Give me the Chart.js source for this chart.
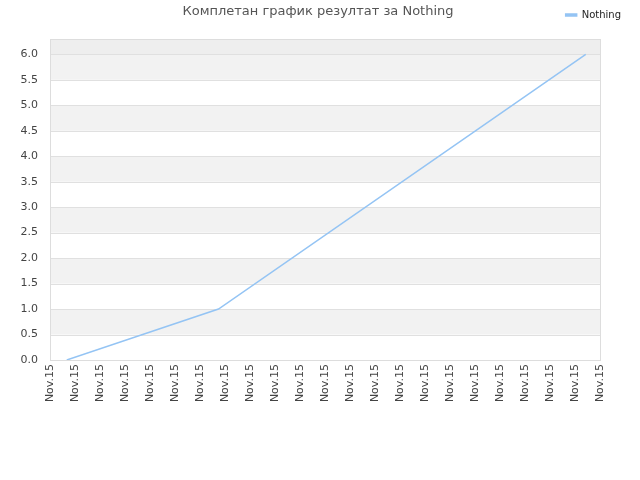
<!DOCTYPE html>
<html lang="sr">
<head>
    <meta charset="UTF-8">
    <title>Nothing</title>
    <script src="https://cdn.jsdelivr.net/npm/chart.js"></script>
    <style>
        html, body { margin: 0; padding: 0; background: #fff; }
        #wrap { width: 640px; height: 480px; }
    </style>
</head>
<body>
<div id="wrap"><canvas id="chart" width="640" height="480"></canvas></div>

<script>
    // data
    var titleText = 'Комплетан график резултат за Nothing'
    var seriesName = 'Nothing'
    var xTicks = ['Nov.15', 'Nov.15', 'Nov.15', 'Nov.15', 'Nov.15', 'Nov.15', 'Nov.15', 'Nov.15',
        'Nov.15', 'Nov.15', 'Nov.15', 'Nov.15', 'Nov.15', 'Nov.15', 'Nov.15', 'Nov.15',
        'Nov.15', 'Nov.15', 'Nov.15', 'Nov.15', 'Nov.15', 'Nov.15', 'Nov.15']
    var xPos = [0.67, 6.74, 21.43]
    var scores = [0, 1, 6]
    var yMax = 6.3
    var yStep = 0.5

    var font = "'DejaVu Sans', sans-serif"

    var bands = {
        id: 'bands',
        beforeDatasetsDraw: function (chart) {
            var ctx = chart.ctx, a = chart.chartArea, y = chart.scales.y
            ctx.save()
            for (var v = 0; v < yMax; v += yStep) {
                var top = y.getPixelForValue(Math.min(v + yStep, yMax))
                var bot = y.getPixelForValue(v)
                var band = Math.round(v / yStep)
                if (v + yStep > yMax) ctx.fillStyle = '#eeeeee'
                else if (band % 2 === 1) ctx.fillStyle = '#f2f2f2'
                else continue
                ctx.fillRect(a.left, top, a.right - a.left, bot - top)
            }
            // grid lines on top of the bands
            ctx.strokeStyle = '#e0e0e0'
            ctx.lineWidth = 1
            for (var w = yStep; w <= yMax; w += yStep) {
                var py = Math.round(y.getPixelForValue(w)) + 0.5
                ctx.beginPath()
                ctx.moveTo(a.left, py)
                ctx.lineTo(a.right, py)
                ctx.stroke()
            }
            ctx.strokeStyle = '#dddddd'
            ctx.strokeRect(Math.round(a.left) + 0.5, Math.round(a.top) + 0.5,
                Math.round(a.right - a.left), Math.round(a.bottom - a.top))
            ctx.restore()
        },
        afterDraw: function (chart) {
            var ctx = chart.ctx
            ctx.save()
            ctx.font = '13px ' + font
            ctx.fillStyle = '#555555'
            ctx.textAlign = 'center'
            ctx.textBaseline = 'middle'
            ctx.fillText(titleText, 318, 12)
            ctx.restore()
        }
    }

    // invisible axis used only as a spacer
    function spacer(pos, size) {
        return {
            position: pos,
            display: true,
            afterFit: function (s) {
                if (s.isHorizontal()) s.height = size
                else s.width = size
            },
            grid: {display: false, drawTicks: false},
            border: {display: false},
            ticks: {display: false}
        }
    }

    var canvas = document.getElementById('chart')
    var chart = new Chart(canvas, {
        type: 'line',
        data: {
            datasets: [{
                label: seriesName,
                data: xPos.map(function (x, i) { return {x: x, y: scores[i]} }),
                borderColor: '#94c4f4',
                backgroundColor: '#94c4f4',
                borderWidth: 1.5,
                pointRadius: 0,
                tension: 0
            }]
        },
        options: {
            responsive: false,
            animation: false,
            layout: {padding: {top: 0, right: 9, left: 0, bottom: 0}},
            plugins: {
                title: {display: false},
                tooltip: {enabled: false},
                legend: {
                    position: 'top',
                    align: 'end',
                    labels: {
                        boxWidth: 11,
                        boxHeight: 2,
                        padding: 10,
                        color: '#222222',
                        font: {family: font, size: 10}
                    }
                }
            },
            scales: {
                x: {
                    type: 'linear',
                    min: 0,
                    max: xTicks.length - 1,
                    afterBuildTicks: function (s) {
                        s.ticks = xTicks.map(function (t, i) { return {value: i} })
                    },
                    afterFit: function (s) { s.height = 120 },
                    grid: {display: false, drawTicks: false},
                    border: {color: '#dddddd'},
                    ticks: {
                        autoSkip: false,
                        maxRotation: 90,
                        minRotation: 90,
                        padding: 4,
                        color: '#444444',
                        font: {family: font, size: 11},
                        callback: function (v, i) { return xTicks[i] }
                    }
                },
                y: {
                    min: 0,
                    max: yMax,
                    afterBuildTicks: function (s) {
                        var t = []
                        for (var v = 0; v <= yMax + 1e-9; v += yStep) t.push({value: Math.round(v * 10) / 10})
                        s.ticks = t
                    },
                    afterFit: function (s) { s.width = 50 },
                    grid: {display: false, drawTicks: false},
                    border: {color: '#dddddd'},
                    ticks: {
                        padding: 12,
                        color: '#444444',
                        font: {family: font, size: 11},
                        callback: function (v) { return v.toFixed(1) }
                    }
                },
                topGap: Object.assign({type: 'linear', axis: 'x', min: 0, max: 1}, spacer('top', 9)),
                rightGap: Object.assign({type: 'linear', axis: 'y', min: 0, max: 1}, spacer('right', 31))
            }
        },
        plugins: [bands]
    })
</script>

</body>
</html>
